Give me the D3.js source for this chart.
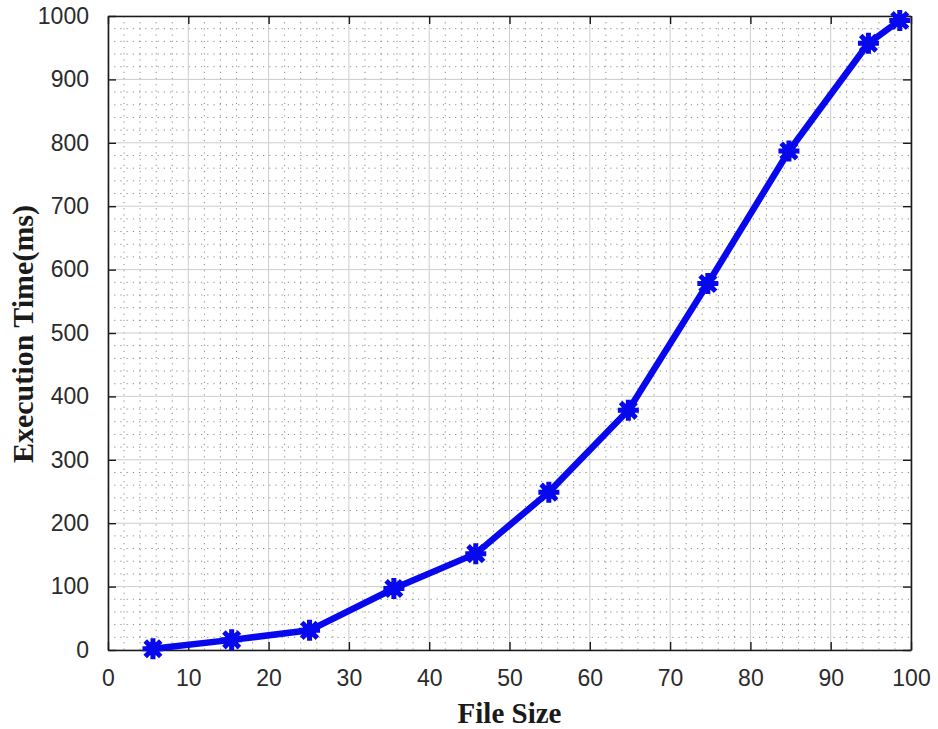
<!DOCTYPE html>
<html>
<head>
<meta charset="utf-8">
<script src="https://cdn.jsdelivr.net/npm/d3@7"></script>
<style>
  html, body { margin: 0; padding: 0; background: #fff; }
  svg { display: block; }
</style>
</head>
<body>
<svg id="chart" width="938" height="729"></svg>
<script>
// Measured file sizes and execution times
const fileSizes = [5.6, 15.4, 25.1, 35.6, 45.8, 54.9, 64.8, 74.7, 84.8, 94.7, 98.6];
const execTimes = [2, 16, 31, 97, 152, 249, 378, 578, 787, 957, 993];
const xTicks = [0, 10, 20, 30, 40, 50, 60, 70, 80, 90, 100];
const yTicks = [0, 100, 200, 300, 400, 500, 600, 700, 800, 900, 1000];
const xLabel = "File Size";
const yLabel = "Execution Time(ms)";

const svg = d3.select("#chart");
const plotL = 108, plotR = 911, plotT = 16, plotB = 650;

const x = d3.scaleLinear().domain([0, 100]).range([plotL, plotR]);
const y = d3.scaleLinear().domain([0, 1000]).range([plotB, plotT]);

// Minor grid (dotted)
const xMinor = d3.range(0, 100.001, 2).filter(v => v % 10 !== 0);
const yMinor = d3.range(0, 1000.001, 20).filter(v => v % 100 !== 0);
const grid = svg.append("g");
grid.selectAll("line.xm").data(xMinor).join("line")
  .attr("x1", d => x(d)).attr("x2", d => x(d))
  .attr("y1", plotT).attr("y2", plotB)
  .attr("stroke", "#8a8a8a").attr("stroke-width", 1)
  .attr("stroke-dasharray", "1.2,5");
grid.selectAll("line.ym").data(yMinor).join("line")
  .attr("y1", d => y(d)).attr("y2", d => y(d))
  .attr("x1", plotL).attr("x2", plotR)
  .attr("stroke", "#8a8a8a").attr("stroke-width", 1)
  .attr("stroke-dasharray", "1.2,5");

// Major grid (solid, light)
grid.selectAll("line.xM").data(xTicks).join("line")
  .attr("x1", d => x(d)).attr("x2", d => x(d))
  .attr("y1", plotT).attr("y2", plotB)
  .attr("stroke", "#cdcdcd").attr("stroke-width", 1);
grid.selectAll("line.yM").data(yTicks).join("line")
  .attr("y1", d => y(d)).attr("y2", d => y(d))
  .attr("x1", plotL).attr("x2", plotR)
  .attr("stroke", "#cdcdcd").attr("stroke-width", 1);

// Axes with inward ticks on all four sides
const tickFont = "Liberation Sans, Arial, sans-serif";
const styleAxis = (g) => {
  g.select(".domain").attr("stroke", "#1a1a1a").attr("stroke-width", 1.6);
  g.selectAll(".tick line").attr("stroke", "#1a1a1a").attr("stroke-width", 1.4);
  g.selectAll(".tick text").attr("fill", "#2b2b2b").style("font-family", tickFont).style("font-size", "23px");
};
const fmt = d3.format("d");

svg.append("g").attr("transform", `translate(0,${plotB})`)
  .call(d3.axisBottom(x).tickValues(xTicks).tickFormat(fmt).tickSize(-8).tickSizeOuter(0).tickPadding(20))
  .call(styleAxis);
svg.append("g").attr("transform", `translate(0,${plotT})`)
  .call(d3.axisTop(x).tickValues(xTicks).tickSize(-8).tickSizeOuter(0).tickFormat(""))
  .call(styleAxis);
svg.append("g").attr("transform", `translate(${plotL},0)`)
  .call(d3.axisLeft(y).tickValues(yTicks).tickFormat(fmt).tickSize(-8).tickSizeOuter(0).tickPadding(19))
  .call(styleAxis);
svg.append("g").attr("transform", `translate(${plotR},0)`)
  .call(d3.axisRight(y).tickValues(yTicks).tickSize(-8).tickSizeOuter(0).tickFormat(""))
  .call(styleAxis);

// Data line
const pts = fileSizes.map((v, i) => [v, execTimes[i]]);
const blue = "#0808ee";
svg.append("path")
  .datum(pts)
  .attr("fill", "none")
  .attr("stroke", blue)
  .attr("stroke-width", 6.5)
  .attr("stroke-linejoin", "round")
  .attr("d", d3.line().x(d => x(d[0])).y(d => y(d[1])));

// Asterisk markers
const r = 8, rd = 6;
const star = `M${-r},0L${r},0M0,${-r}L0,${r}M${-rd},${-rd}L${rd},${rd}M${-rd},${rd}L${rd},${-rd}`;
svg.append("g").selectAll("path").data(pts).join("path")
  .attr("transform", d => `translate(${x(d[0])},${y(d[1])})`)
  .attr("d", star)
  .attr("fill", "none")
  .attr("stroke", blue)
  .attr("stroke-width", 5)
  .attr("stroke-linecap", "square");
svg.append("g").selectAll("circle").data(pts).join("circle")
  .attr("cx", d => x(d[0])).attr("cy", d => y(d[1]))
  .attr("r", 7).attr("fill", blue);

// Axis titles
const titleFont = "Liberation Serif, Times New Roman, serif";
svg.append("text")
  .attr("x", (plotL + plotR) / 2).attr("y", 723)
  .attr("text-anchor", "middle")
  .style("font-family", titleFont).style("font-weight", "bold").style("font-size", "29px")
  .attr("fill", "#1a1a1a")
  .text(xLabel);
svg.append("text")
  .attr("transform", `translate(33,334) rotate(-90)`)
  .attr("text-anchor", "middle")
  .style("font-family", titleFont).style("font-weight", "bold").style("font-size", "30px")
  .attr("fill", "#1a1a1a")
  .text(yLabel);
</script>
</body>
</html>
